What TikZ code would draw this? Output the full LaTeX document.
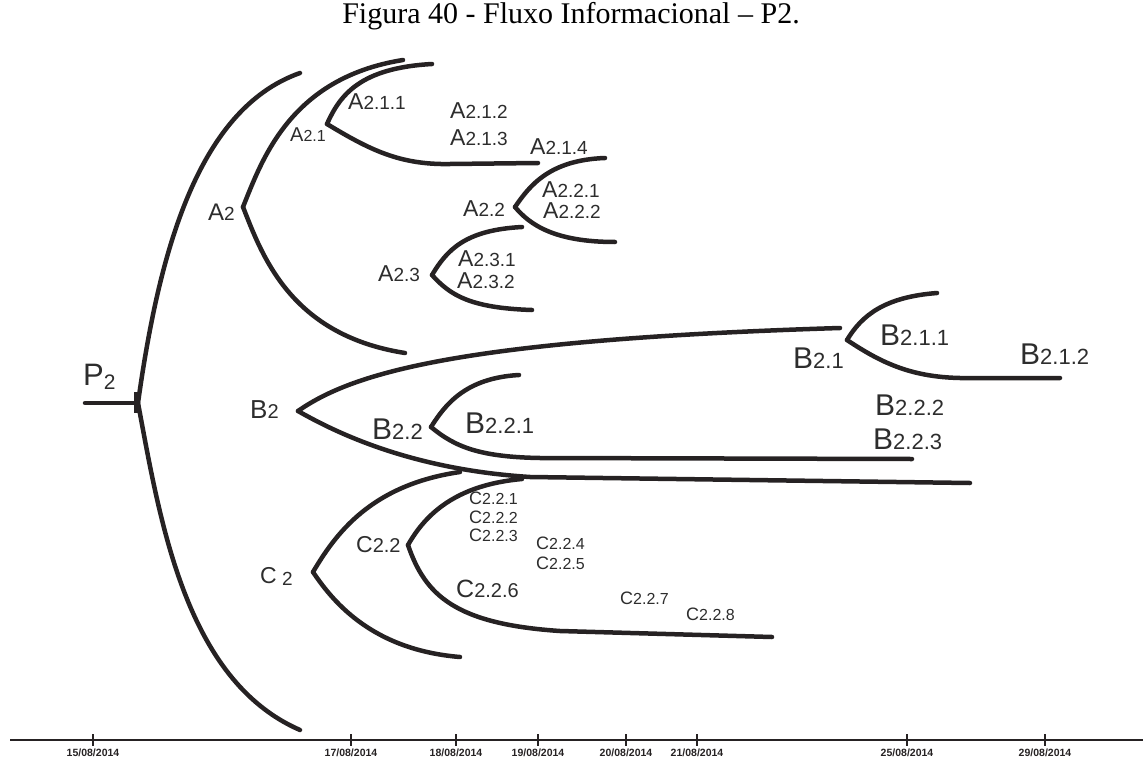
\documentclass[tikz,border=0pt]{standalone}
\usepackage{fontspec}
\setmainfont{Liberation Serif}
\newfontfamily\lblfont{Liberation Sans}
\usetikzlibrary{positioning}
\definecolor{ink}{RGB}{38,34,35}
\definecolor{lbltext}{RGB}{45,45,45}
\newcommand{\lab}[4]{{\fontsize{#3}{#3}\selectfont #1}{\fontsize{#4}{#4}\selectfont #2}}

\begin{document}
\begin{tikzpicture}[x=1pt,y=-1pt,
  branch/.style={draw=ink,line width=4.5pt,line cap=round},
  lbl/.style={anchor=base west,inner sep=0pt,text=lbltext,font=\lblfont},
  datelbl/.style={inner sep=0pt,text=ink,font=\lblfont\bfseries\fontsize{10.5}{11}\selectfont}]
\useasboundingbox (0,0) rectangle (1143,760);
\node[font=\fontsize{30}{30}\selectfont,anchor=base,inner sep=0pt] (title) at (571,24) {Figura 40 - Fluxo Informacional – P2.};

\coordinate (p2) at (138,403);
\coordinate (p2in) at (85,403);
\coordinate (p2top) at (300,73);
\coordinate (p2bot) at (300,730);
\coordinate (a2) at (243,207);
\coordinate (a2up) at (403,60);
\coordinate (a2dn) at (405,353);
\coordinate (a21) at (327,124);
\coordinate (a21up) at (432,64);
\coordinate (a21dn) at (538,163);
\coordinate (a22) at (515,207);
\coordinate (a22up) at (605,158);
\coordinate (a22dn) at (615,242);
\coordinate (a23) at (432,275);
\coordinate (a23up) at (522,227);
\coordinate (a23dn) at (532,310);
\coordinate (b2) at (298,411);
\coordinate (b2up) at (840,328);
\coordinate (b2dn) at (970,483);
\coordinate (b21) at (847,340);
\coordinate (b21up) at (937,293);
\coordinate (b21dn) at (1060,378);
\coordinate (b22) at (431,427);
\coordinate (b22up) at (519,375);
\coordinate (b22dn) at (912,459);
\coordinate (c2) at (313,572);
\coordinate (c2up) at (460,472);
\coordinate (c2dn) at (460,657);
\coordinate (c22) at (408,545);
\coordinate (c22up) at (522,479);
\coordinate (c22dn) at (772,637);

\draw[branch] (p2in) -- (p2);
\fill[ink] (p2) ++(-4,-11) rectangle ++(6,21);
\draw[branch] (p2) .. controls (158,260) and (195,110) .. (p2top);
\draw[branch] (p2) .. controls (160,520) and (185,680) .. (p2bot);

\draw[branch] (a2) .. controls (262,160) and (290,78) .. (a2up);
\draw[branch] (a2) .. controls (262,255) and (290,335) .. (a2dn);
\draw[branch] (a21) .. controls (340,95) and (360,68) .. (a21up);
\draw[branch] (a21) .. controls (370,150) and (400,165) .. (450,164) -- (a21dn);
\draw[branch] (a22) .. controls (530,185) and (550,160) .. (a22up);
\draw[branch] (a22) .. controls (530,225) and (555,242) .. (a22dn);
\draw[branch] (a23) .. controls (447,250) and (465,230) .. (a23up);
\draw[branch] (a23) .. controls (450,295) and (470,308) .. (a23dn);

\draw[branch] (b2) .. controls (350,375) and (450,340) .. (b2up);
\draw[branch] (b2) .. controls (345,438) and (420,470) .. (530,477) -- (b2dn);
\draw[branch] (b21) .. controls (862,315) and (885,297) .. (b21up);
\draw[branch] (b21) .. controls (880,362) and (910,377) .. (960,378) -- (b21dn);
\draw[branch] (b22) .. controls (445,405) and (465,378) .. (b22up);
\draw[branch] (b22) .. controls (455,447) and (480,457) .. (540,458) -- (b22dn);

\draw[branch] (c2) .. controls (335,535) and (370,485) .. (c2up);
\draw[branch] (c2) .. controls (335,605) and (375,650) .. (c2dn);
\draw[branch] (c22) .. controls (425,515) and (455,485) .. (c22up);
\draw[branch] (c22) .. controls (425,595) and (455,624) .. (560,631) -- (c22dn);

\node[lbl] (lp2) at (83,385) {\lab{P}{\raisebox{-4pt}{2}}{31}{21}};
\node[lbl] (la2) at (208,220) {\lab{A}{2}{24}{19}};
\node[lbl] (la21) at (290,141) {\lab{A}{2.1}{20}{16}};
\node[lbl] (la211) at (348,110) {\lab{A}{2.1.1}{23}{19}};
\node[lbl] (la212) at (450,118) {\lab{A}{2.1.2}{23}{19}};
\node[lbl] (la213) at (450,145) {\lab{A}{2.1.3}{23}{19}};
\node[lbl] (la214) at (530,154) {\lab{A}{2.1.4}{23}{19}};
\node[lbl] (la22) at (463,216) {\lab{A}{2.2}{23}{19}};
\node[lbl] (la221) at (542,197) {\lab{A}{2.2.1}{23}{19}};
\node[lbl] (la222) at (543,218) {\lab{A}{2.2.2}{23}{19}};
\node[lbl] (la23) at (378,281) {\lab{A}{2.3}{23}{19}};
\node[lbl] (la231) at (458,266) {\lab{A}{2.3.1}{23}{19}};
\node[lbl] (la232) at (457,288) {\lab{A}{2.3.2}{23}{19}};

\node[lbl] (lb2) at (250,418) {\lab{B}{2}{26}{20}};
\node[lbl] (lb22) at (372,439) {\lab{B}{2.2}{30}{22}};
\node[lbl] (lb221) at (465,433) {\lab{B}{2.2.1}{30}{22}};
\node[lbl] (lb21) at (793,368) {\lab{B}{2.1}{30}{22}};
\node[lbl] (lb211) at (880,345) {\lab{B}{2.1.1}{30}{22}};
\node[lbl] (lb212) at (1020,364) {\lab{B}{2.1.2}{30}{22}};
\node[lbl] (lb222) at (875,415) {\lab{B}{2.2.2}{30}{22}};
\node[lbl] (lb223) at (873,449) {\lab{B}{2.2.3}{30}{22}};

\node[lbl] (lc2) at (260,583) {\lab{C}{ \raisebox{-2pt}{2}}{23}{19}};
\node[lbl] (lc22) at (356,552) {\lab{C}{2.2}{23}{20}};
\node[lbl] (lc221) at (469,504) {\lab{C}{2.2.1}{18}{16}};
\node[lbl] (lc222) at (469,523) {\lab{C}{2.2.2}{18}{16}};
\node[lbl] (lc223) at (469,541) {\lab{C}{2.2.3}{18}{16}};
\node[lbl] (lc224) at (536,549) {\lab{C}{2.2.4}{18}{16}};
\node[lbl] (lc225) at (536,569) {\lab{C}{2.2.5}{18}{16}};
\node[lbl] (lc226) at (456,597) {\lab{C}{2.2.6}{25}{20}};
\node[lbl] (lc227) at (620,604) {\lab{C}{2.2.7}{18}{16}};
\node[lbl] (lc228) at (686,620) {\lab{C}{2.2.8}{18}{16}};

\coordinate (ax0) at (10,740);
\coordinate (ax1) at (1143,740);
\draw[ink,line width=2pt] (ax0) -- (ax1);
\foreach \x/\dd in {93/15,351/17,456/18,538/19,626/20,697/21,907/25,1045/29}{
  \draw[ink,line width=2.5pt] (\x,734) -- (\x,746);
  \node[datelbl] (d\dd) at (\x,753) {\dd/08/2014};
}
\end{tikzpicture}
\end{document}
